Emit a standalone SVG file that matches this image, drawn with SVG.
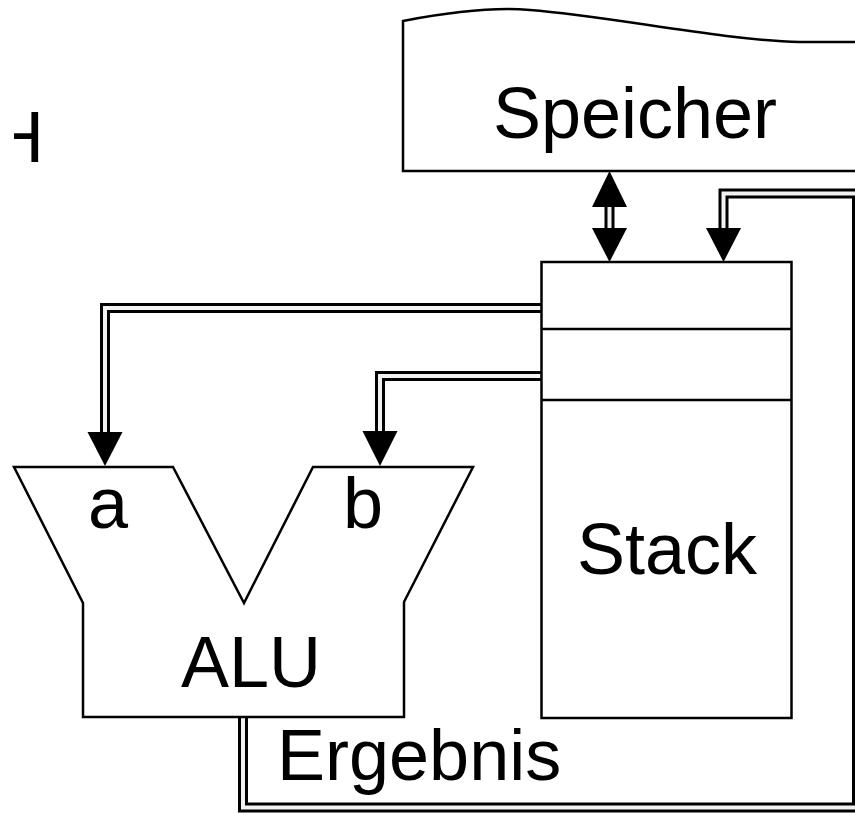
<svg xmlns="http://www.w3.org/2000/svg" width="855" height="813" viewBox="0 0 855 813">
<defs>
<style>
.node{fill:#fff;stroke:#000;stroke-width:2.5;stroke-linejoin:miter}
.lbl{font-family:"Liberation Sans",Arial,sans-serif;font-size:72px;fill:#000}
.bus-o{fill:none;stroke:#000;stroke-width:10;stroke-linejoin:miter}
.bus-i{fill:none;stroke:#f2f2f2;stroke-width:4;stroke-linejoin:miter}
.head{fill:#000;stroke:none}
</style>
<clipPath id="hclip"><rect x="14" y="100" width="40" height="80"/></clipPath>
</defs>
<rect width="855" height="813" fill="#fff"/>
<g id="fragment" clip-path="url(#hclip)">
<text class="lbl" x="-8" y="162" font-size="66">H</text>
</g>
<g id="connectors">
<path class="bus-o" d="M609.5,205 V229"/>
<path class="bus-i" d="M609.5,205 V229"/>
<polygon class="head" points="609.5,171 592,207 627,207"/>
<polygon class="head" points="609.5,262 592,228 627,228"/>
<path class="bus-o" d="M243,717 V807.5 H857 V193.5 H723.5 V229"/>
<path class="bus-i" d="M243,717 V807.5 H857 V193.5 H723.5 V229"/>
<polygon class="head" points="723.5,262 706,228 741,228"/>
<path class="bus-o" d="M541,308 H105 V434"/>
<path class="bus-i" d="M541,308 H105 V434"/>
<polygon class="head" points="105,466 87.5,432 122.5,432"/>
<path class="bus-o" d="M541,376 H380 V433"/>
<path class="bus-i" d="M541,376 H380 V433"/>
<polygon class="head" points="380,466 362.5,431 397.5,431"/>
</g>
<g id="speicher">
<path class="node" d="M403,171 V21 C450,12 495,7 530,10 C610,16 720,40 800,42 H862 V171 Z"/>
<text class="lbl" x="635" y="138" text-anchor="middle">Speicher</text>
</g>
<g id="stack">
<rect class="node" x="541.5" y="262" width="250" height="456"/>
<line x1="541.5" y1="329" x2="791.5" y2="329" stroke="#000" stroke-width="2.5"/>
<line x1="541.5" y1="400" x2="791.5" y2="400" stroke="#000" stroke-width="2.5"/>
<text class="lbl" x="667" y="574" text-anchor="middle">Stack</text>
</g>
<g id="alu">
<path class="node" d="M14,467 H173 L244,603 L313,467 H473 L404,602 V717 H83 V603 Z"/>
<text class="lbl" x="108" y="528" text-anchor="middle">a</text>
<text class="lbl" x="363" y="528" text-anchor="middle">b</text>
<text class="lbl" x="251" y="687" text-anchor="middle">ALU</text>
</g>
<g id="ergebnis">
<text class="lbl" x="277" y="780">Ergebnis</text>
</g>
</svg>
